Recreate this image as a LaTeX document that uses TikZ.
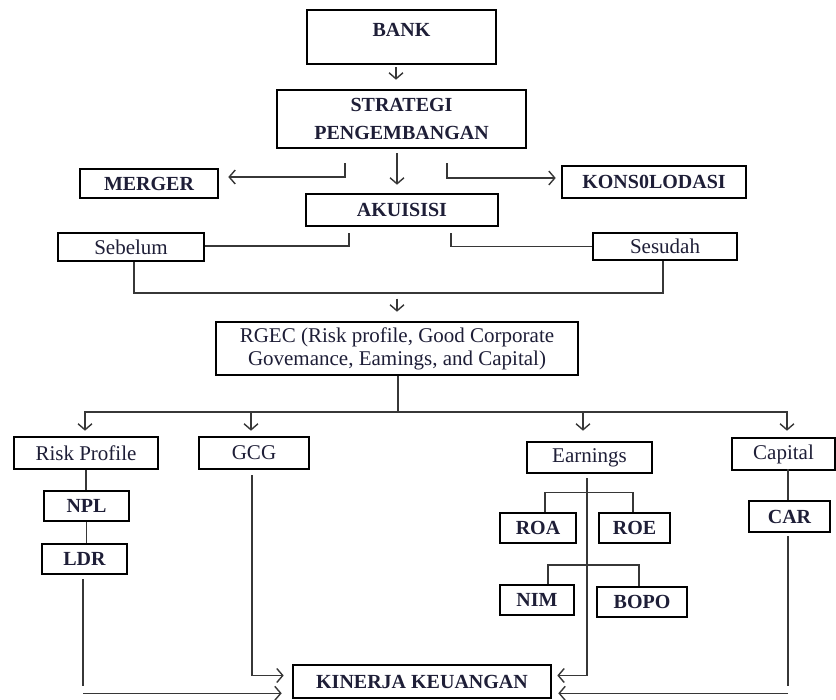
\documentclass[tikz,border=0pt]{standalone}
\usepackage{fontspec}
\setmainfont{Liberation Serif}
\usetikzlibrary{arrows.meta,calc}
\definecolor{txt}{RGB}{30,30,55}
\definecolor{ln}{RGB}{55,55,55}
\tikzset{
  box/.style={draw=black, line width=2.6pt, inner sep=0pt, align=center, text=txt,
    font=\fontsize{20}{22}\selectfont\bfseries},
  rbox/.style={box, font=\fontsize{21}{23}\selectfont},
  conn/.style={draw=ln, line width=1.6pt},
  arr/.style={conn, -{Straight Barb[length=6pt,width=14pt,line width=1.4pt]}},
}
\begin{document}
\begin{tikzpicture}[x=1pt,y=-1pt]
\useasboundingbox (0,0) rectangle (836,700);
\fill[white] (0,0) rectangle (836,700);
% nodes
\node[box, minimum width=189, minimum height=54, text depth=14pt] (bank) at (401.5,37) {BANK};
\node[box, minimum width=249, minimum height=58, font=\fontsize{20}{28}\selectfont\bfseries] (strat) at (401.5,119) {STRATEGI\\PENGEMBANGAN};
\node[box, minimum width=138, minimum height=29] (merger) at (149,183.5) {MERGER};
\node[box, minimum width=184, minimum height=32] (kons) at (654,182) {KONS0LODASI};
\node[box, minimum width=192, minimum height=32] (akui) at (402,210) {AKUISISI};
\node[rbox, minimum width=146, minimum height=28] (sebelum) at (131,247) {Sebelum};
\node[rbox, minimum width=144, minimum height=27] (sesudah) at (665,246.5) {Sesudah};
\node[rbox, minimum width=362, minimum height=53] (rgec) at (397,348.5) {RGEC (Risk profile, Good Corporate\\Govemance, Eamings, and Capital)};
\node[rbox, minimum width=144, minimum height=32] (risk) at (86,453) {Risk Profile};
\node[rbox, minimum width=110, minimum height=32] (gcg) at (254,453) {GCG};
\node[rbox, minimum width=125, minimum height=31] (earn) at (589.5,457.5) {Earnings};
\node[rbox, minimum width=103, minimum height=32] (cap) at (783.5,454) {Capital};
\node[box, minimum width=85, minimum height=30] (npl) at (86.5,506) {NPL};
\node[box, minimum width=85, minimum height=30] (ldr) at (84.5,559) {LDR};
\node[box, minimum width=76, minimum height=30] (roa) at (538,528) {ROA};
\node[box, minimum width=71, minimum height=30] (roe) at (634.5,528) {ROE};
\node[box, minimum width=74, minimum height=30] (nim) at (537,600) {NIM};
\node[box, minimum width=90, minimum height=30] (bopo) at (642,602) {BOPO};
\node[box, minimum width=81, minimum height=31] (car) at (789.5,516.5) {CAR};
\node[box, minimum width=258, minimum height=33] (kin) at (422,681.5) {KINERJA KEUANGAN};
% top part
\draw[arr] ([xshift=-5.5pt,yshift=-2pt]bank.south) -- ([xshift=-5.5pt,yshift=9pt]strat.north);
\draw[arr] ([xshift=-4.5pt,yshift=-4pt]strat.south) -- ([xshift=-5pt,yshift=8pt]akui.north);
\draw[arr] ([xshift=-56.5pt,yshift=-14pt]strat.south) |- ([xshift=9pt,yshift=6.5pt]merger.east);
\draw[arr] ([xshift=45.5pt,yshift=-14pt]strat.south) |- ([xshift=-5pt,yshift=4pt]kons.west);
\draw[conn] ([xshift=-53pt,yshift=-6pt]akui.south) |- ([yshift=1pt]sebelum.east);
\draw[conn] ([xshift=49pt,yshift=-6pt]akui.south) |- (sesudah.west);
\draw[conn] ([xshift=3pt]sebelum.south) -- ++(0,31) -| ([xshift=-2pt]sesudah.south);
\draw[arr] ([yshift=22pt]rgec.north) -- ([yshift=9pt]rgec.north);
% RGEC bus
\draw[conn] ([xshift=1pt]rgec.south) -- ++(0,36) coordinate (bus);
\draw[arr] (bus) -| ([xshift=-1pt,yshift=5pt]risk.north);
\draw[arr] (bus) -| ([xshift=3.5pt,yshift=6pt]cap.north);
\coordinate (gtop) at ([xshift=-3pt,yshift=5pt]gcg.north);
\draw[arr] (gtop |- bus) -- (gtop);
\coordinate (etop) at ([xshift=-6.5pt,yshift=10pt]earn.north);
\draw[arr] (etop |- bus) -- (etop);
% risk profile chain
\draw[conn] (risk.south) -- (risk.south |- npl.north);
\draw[conn] (npl.south) -- (npl.south |- ldr.north);
\draw[conn] ([xshift=-1.5pt,yshift=-4pt]ldr.south) -- ++(0,107) coordinate (ldrend);
\coordinate (ldrarr) at ([yshift=-7pt]ldrend);
\draw[arr, shorten >=10pt] (ldrarr) -- (ldrarr -| kin.west);
% GCG
\draw[arr] ([xshift=-2pt,yshift=-5pt]gcg.south) |- ([xshift=-8pt,yshift=6pt]kin.west);
% Earnings
\draw[arr] ([xshift=-2.5pt,yshift=-4pt]earn.south) |- ([xshift=5pt,yshift=6pt]kin.east);
\draw[conn] ([xshift=7pt]roa.north) -- ++(0,-19) -| ([xshift=-1.5pt]roe.north);
\draw[conn] ([xshift=11pt]nim.north) -- ++(0,-19) -| ([xshift=-3pt]bopo.north);
% Capital
\draw[conn] ([xshift=-1.5pt]car.north) -- ++(0,-31);
\draw[conn] ([xshift=-1.5pt,yshift=-3pt]car.south) -- ++(0,150) coordinate (carend);
\coordinate (cararr) at ([yshift=-7pt]carend);
\draw[arr, shorten >=6pt] (cararr) -- (cararr -| kin.east);
\end{tikzpicture}
\end{document}
